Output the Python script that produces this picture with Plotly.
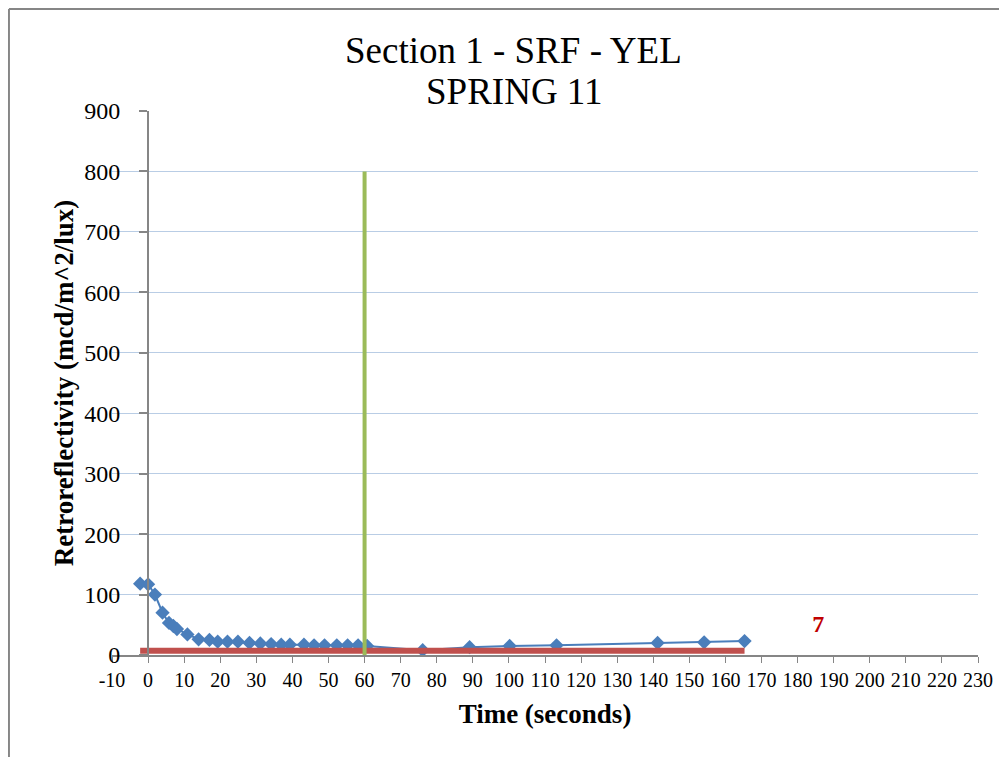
import plotly.graph_objects as go

# retroreflectivity readings over time
time_s = [-2.2, 0, 1.9, 4.0, 5.8, 7.0, 8.0, 10.9, 14.0, 17.0, 19.3, 22.0, 24.9, 28.1,
          31.1, 34.1, 36.9, 39.3, 43.2, 46.0, 48.9, 52.3, 55.3, 58.2, 60.7,
          76.1, 89.1, 100.2, 113.2, 141.2, 154.1, 165.3]
retro = [118, 117, 100, 70, 53, 48, 43, 34, 26, 25, 22, 22, 22, 20,
         19, 18, 17, 17, 17, 16, 16, 16, 16, 16, 15,
         8, 13, 15, 16, 20, 21, 23]

# threshold line (minimum value 7)
thresh_x = [-2.2, 165.3]
thresh_y = [7, 7]

# 60 second marker
mark_x = [60, 60]
mark_y = [0, 800]

label_x = [185.7]
label_y = [48]
label_txt = ["7"]

x_ticks = list(range(-10, 231, 10))
x_ticktext = [str(v) for v in x_ticks]   # plain hyphen, not unicode minus

serif = "Times New Roman, Liberation Serif, serif"
grey = "#868686"

fig = go.Figure()
fig.add_trace(go.Scatter(x=time_s, y=retro, mode="lines+markers",
                         line=dict(color="#4A7EBB", width=2),
                         marker=dict(symbol="diamond", size=11, color="#4A7EBB")))
fig.add_trace(go.Scatter(x=thresh_x, y=thresh_y, mode="lines",
                         line=dict(color="#C0504D", width=6)))
fig.add_trace(go.Scatter(x=mark_x, y=mark_y, mode="lines",
                         line=dict(color="#9BBB59", width=4)))
fig.add_trace(go.Scatter(x=label_x, y=label_y, mode="text", text=label_txt,
                         textfont=dict(family=serif, size=24, color="#C00000",
                                       weight="bold")))

fig.update_layout(
    width=1007, height=757,
    showlegend=False,
    plot_bgcolor="white", paper_bgcolor="white",
    margin=dict(l=104, r=37, t=103, b=110),
    font=dict(family=serif, color="black"),
    xaxis=dict(range=[-10, 230], tickmode="array", tickvals=x_ticks, ticktext=x_ticktext,
               showgrid=False, zeroline=False,
               showline=True, linecolor=grey, linewidth=2,
               ticks="outside", ticklen=6, tickcolor=grey,
               tickfont=dict(size=20),
               title=dict(text="<b>Time (seconds)</b>", font=dict(size=27), standoff=14)),
    # y axis sits at x = 0, like the spreadsheet original
    yaxis=dict(range=[0, 900], dtick=100, showgrid=True, gridcolor="#B9CDE5",
               gridwidth=1, zeroline=False,
               anchor="free", position=10 / 240,
               showline=True, linecolor=grey, linewidth=2,
               ticks="outside", ticklen=8, tickcolor=grey, tickwidth=2,
               ticklabelstandoff=14,
               tickfont=dict(size=24),
               title=dict(text="<b>Retroreflectivity (mcd/m^2/lux)</b>",
                          font=dict(size=27), standoff=2)),
    annotations=[
        dict(text="Section 1 - SRF - YEL", xref="paper", yref="paper", x=0.464, y=1.112,
             xanchor="center", yanchor="middle", showarrow=False, font=dict(size=37)),
        dict(text="SPRING 11", xref="paper", yref="paper", x=0.464, y=1.035,
             xanchor="center", yanchor="middle", showarrow=False, font=dict(size=37)),
    ],
    shapes=[
        dict(type="line", xref="paper", yref="paper", x0=-0.119, x1=1.2,
             y0=1.1875, y1=1.1875, line=dict(color=grey, width=2)),
        dict(type="line", xref="paper", yref="paper", x0=-0.119, x1=-0.119,
             y0=1.1875, y1=-0.3, line=dict(color=grey, width=2)),
    ],
)

fig.write_html("out.html")
